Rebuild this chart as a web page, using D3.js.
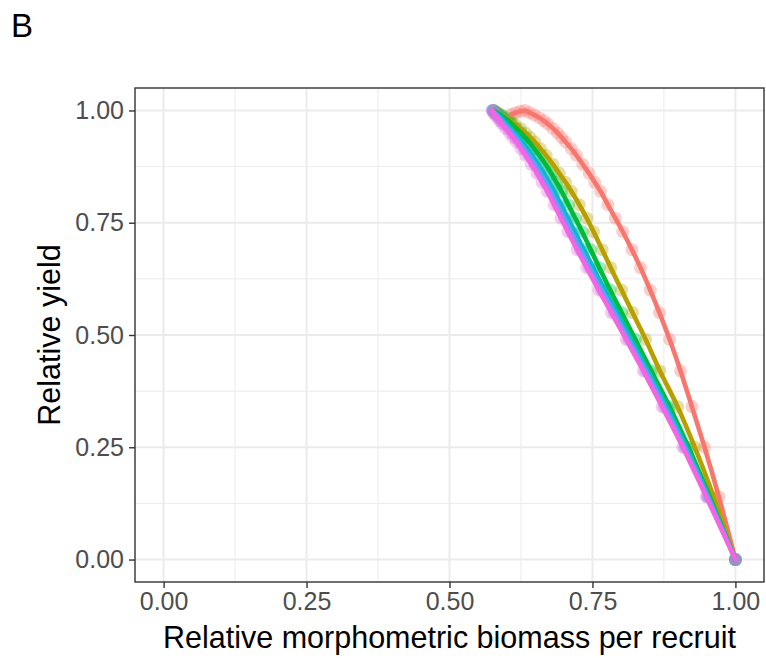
<!DOCTYPE html>
<html>
<head>
<meta charset="utf-8">
<script src="https://cdn.jsdelivr.net/npm/d3@7"></script>
<style>
  body { margin: 0; background: #fff; }
  text { font-family: "Liberation Sans", Arial, sans-serif; }
</style>
</head>
<body>
<div id="chart"></div>
<script>
// relative yield levels shared by all series (one point per fishing step)
const yieldLevels = [0, 0.14, 0.25, 0.34, 0.42, 0.49, 0.55, 0.60, 0.65, 0.69, 0.73, 0.76, 0.79,
  0.82, 0.84, 0.86, 0.88, 0.90, 0.915, 0.93, 0.94, 0.95, 0.96, 0.97, 0.977, 0.984, 0.99, 0.995, 1.0];

// relative biomass per recruit for each series
const biomassRed = [1.0, 0.971, 0.946, 0.924, 0.904, 0.885, 0.867, 0.851, 0.834, 0.819, 0.803, 0.790, 0.777,
  0.764, 0.754, 0.744, 0.733, 0.722, 0.713, 0.703, 0.696, 0.689, 0.681, 0.672, 0.665, 0.657, 0.648, 0.640, 0.632];
const biomassOlive = [1.0, 0.962, 0.929, 0.899, 0.868, 0.843, 0.820, 0.801, 0.782, 0.767, 0.752, 0.740, 0.727,
  0.713, 0.703, 0.692, 0.681, 0.669, 0.659, 0.649, 0.641, 0.633, 0.624, 0.614, 0.607, 0.599, 0.591, 0.584, 0.578];
const biomassGreen = [1.0, 0.955, 0.918, 0.885, 0.853, 0.825, 0.801, 0.781, 0.762, 0.747, 0.732, 0.720, 0.708,
  0.696, 0.687, 0.678, 0.668, 0.657, 0.648, 0.639, 0.632, 0.625, 0.617, 0.609, 0.603, 0.596, 0.589, 0.583, 0.577];
const biomassTeal = [1.0, 0.953, 0.914, 0.880, 0.847, 0.818, 0.793, 0.772, 0.751, 0.735, 0.719, 0.707, 0.695,
  0.683, 0.674, 0.665, 0.655, 0.644, 0.636, 0.627, 0.621, 0.614, 0.607, 0.600, 0.595, 0.590, 0.585, 0.580, 0.576];
const biomassBlue = [1.0, 0.951, 0.911, 0.876, 0.843, 0.813, 0.788, 0.766, 0.745, 0.729, 0.713, 0.701, 0.689,
  0.677, 0.668, 0.659, 0.649, 0.639, 0.630, 0.622, 0.616, 0.610, 0.603, 0.596, 0.591, 0.587, 0.582, 0.578, 0.575];
const biomassMagenta = [1.0, 0.949, 0.908, 0.872, 0.839, 0.809, 0.783, 0.761, 0.740, 0.723, 0.707, 0.695, 0.683,
  0.671, 0.662, 0.653, 0.643, 0.633, 0.625, 0.617, 0.611, 0.605, 0.598, 0.592, 0.588, 0.584, 0.580, 0.577, 0.575];

// the red series passes its maximum and comes back down a little
const redTailBiomass = [0.624, 0.616, 0.608];
const redTailYield = [0.998, 0.995, 0.991];

const seriesColors = ["#F8766D", "#B79F00", "#00BA38", "#00BFC4", "#619CFF", "#F564E3"];
const xTicks = [0, 0.25, 0.5, 0.75, 1];
const yTicks = [0, 0.25, 0.5, 0.75, 1];
const minorTicks = [0.125, 0.375, 0.625, 0.875];

const W = 766, H = 658;
const panel = { left: 135, right: 764, top: 88, bottom: 582 };

const svg = d3.select("#chart").append("svg")
  .attr("width", W)
  .attr("height", H);

const x = d3.scaleLinear().domain([-0.05, 1.05]).range([panel.left, panel.right]);
const y = d3.scaleLinear().domain([-0.05, 1.05]).range([panel.bottom, panel.top]);

// build the series from the arrays
const allBiomass = [biomassRed, biomassOlive, biomassGreen, biomassTeal, biomassBlue, biomassMagenta];
const series = allBiomass.map((b, i) => {
  const pts = b.map((v, j) => ({ b: v, yld: yieldLevels[j] }));
  if (i === 0) redTailBiomass.forEach((v, j) => pts.push({ b: v, yld: redTailYield[j] }));
  return { color: seriesColors[i], points: pts };
});

// panel background + grid
svg.append("rect")
  .attr("x", panel.left).attr("y", panel.top)
  .attr("width", panel.right - panel.left).attr("height", panel.bottom - panel.top)
  .attr("fill", "#fff");

const grid = svg.append("g");
minorTicks.forEach((t) => {
  grid.append("line").attr("x1", x(t)).attr("x2", x(t)).attr("y1", panel.top).attr("y2", panel.bottom)
    .attr("stroke", "#ebebeb").attr("stroke-width", 1);
  grid.append("line").attr("y1", y(t)).attr("y2", y(t)).attr("x1", panel.left).attr("x2", panel.right)
    .attr("stroke", "#ebebeb").attr("stroke-width", 1);
});
xTicks.forEach((t) => {
  grid.append("line").attr("x1", x(t)).attr("x2", x(t)).attr("y1", panel.top).attr("y2", panel.bottom)
    .attr("stroke", "#ebebeb").attr("stroke-width", 2);
});
yTicks.forEach((t) => {
  grid.append("line").attr("y1", y(t)).attr("y2", y(t)).attr("x1", panel.left).attr("x2", panel.right)
    .attr("stroke", "#ebebeb").attr("stroke-width", 2);
});

// points
svg.append("clipPath").attr("id", "clip").append("rect")
  .attr("x", panel.left).attr("y", panel.top)
  .attr("width", panel.right - panel.left).attr("height", panel.bottom - panel.top);
const plot = svg.append("g").attr("clip-path", "url(#clip)");

series.forEach((s) => {
  plot.append("g").selectAll("circle")
    .data(s.points)
    .join("circle")
    .attr("cx", (d) => x(d.b))
    .attr("cy", (d) => y(d.yld))
    .attr("r", 6.5)
    .attr("fill", s.color)
    .attr("fill-opacity", 0.35);
});

// lines
const line = d3.line()
  .x((d) => x(d.b))
  .y((d) => y(d.yld))
  .curve(d3.curveMonotoneX);

series.forEach((s) => {
  plot.append("path")
    .datum(s.points.slice().sort((a, b) => a.b - b.b))
    .attr("fill", "none")
    .attr("stroke", s.color)
    .attr("stroke-width", 4.6)
    .attr("stroke-linejoin", "round")
    .attr("stroke-linecap", "round")
    .attr("d", line);
});

// panel border
svg.append("rect")
  .attr("x", panel.left).attr("y", panel.top)
  .attr("width", panel.right - panel.left).attr("height", panel.bottom - panel.top)
  .attr("fill", "none").attr("stroke", "#333333").attr("stroke-width", 1.4);

// axes
const xAxis = svg.append("g")
  .attr("transform", `translate(0,${panel.bottom})`)
  .call(d3.axisBottom(x).tickValues(xTicks).tickFormat(d3.format(".2f")).tickSize(6).tickPadding(4));
const yAxis = svg.append("g")
  .attr("transform", `translate(${panel.left},0)`)
  .call(d3.axisLeft(y).tickValues(yTicks).tickFormat(d3.format(".2f")).tickSize(6).tickPadding(5));

[xAxis, yAxis].forEach((a) => {
  a.select(".domain").remove();
  a.selectAll(".tick line").attr("stroke", "#333333").attr("stroke-width", 1.4);
  a.selectAll(".tick text")
    .attr("fill", "#4d4d4d")
    .style("font-size", "25px")
    .style("font-family", "'Liberation Sans', Arial, sans-serif");
});

// titles
svg.append("text")
  .attr("x", (x(0) + x(1)) / 2)
  .attr("y", 648)
  .attr("text-anchor", "middle")
  .style("font-size", "30.5px")
  .attr("fill", "#000")
  .text("Relative morphometric biomass per recruit");

svg.append("text")
  .attr("transform", `translate(60,${(y(0) + y(1)) / 2}) rotate(-90)`)
  .attr("text-anchor", "middle")
  .style("font-size", "30.5px")
  .attr("fill", "#000")
  .text("Relative yield");

svg.append("text")
  .attr("x", 11)
  .attr("y", 37)
  .style("font-size", "33px")
  .attr("fill", "#000")
  .text("B");
</script>
</body>
</html>
